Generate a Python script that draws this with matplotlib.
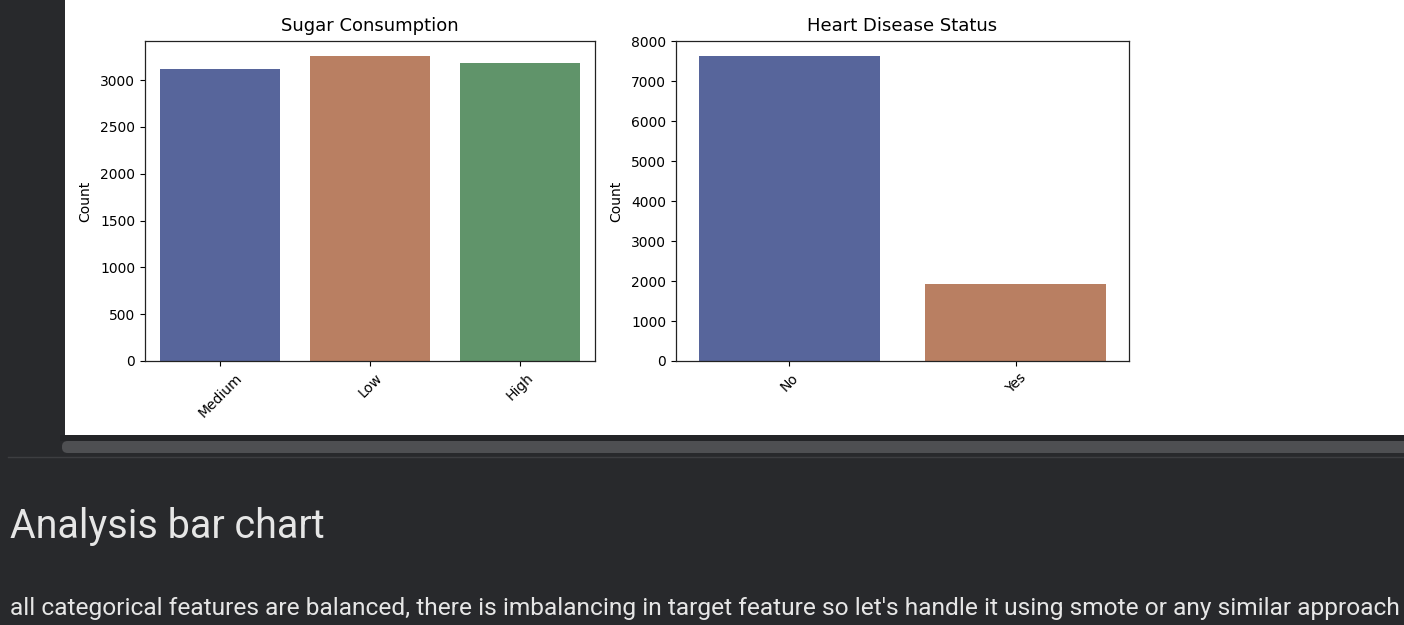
import matplotlib
matplotlib.use("Agg")
import matplotlib.pyplot as plt
from matplotlib.patches import Rectangle, FancyBboxPatch
from matplotlib.lines import Line2D

# --- Données ---
sugar_levels = ["Medium", "Low", "High"]
sugar_counts = [3117, 3255, 3188]

heart_status = ["No", "Yes"]
heart_counts = [7625, 1925]

bar_colors = ["#57659b", "#b97f62", "#60946a"]

titre_section = "Analysis bar chart"
texte_section = ("all categorical features are balanced, there is imbalancing in target "
                 "feature so let's handle it using smote or any similar approach")

W, H = 1404, 625
fond = "#28292c"


def fx(px):
    return px / W


def fy(py):
    return 1 - py / H


fig = plt.figure(figsize=(W / 100, H / 100), dpi=100, facecolor=fond)

# --- Panneau blanc de la cellule ---
fig.patches.append(Rectangle((fx(65), fy(435)), fx(W) - fx(65), 435 / H,
                             transform=fig.transFigure, facecolor="white",
                             edgecolor="none", zorder=-5))
fig.patches.append(Rectangle((fx(60), fy(441)), 1, 6 / H, transform=fig.transFigure,
                             facecolor="#232427", edgecolor="none", zorder=-5))
# barre de défilement
fig.patches.append(FancyBboxPatch((fx(62), fy(453)), 1.0, 12 / H,
                                  boxstyle="round,pad=0,rounding_size=0.004",
                                  transform=fig.transFigure, facecolor="#4e4f52",
                                  edgecolor="none", zorder=-5, mutation_aspect=2.2))
fig.lines.append(Line2D([fx(8), 1], [fy(456.5), fy(456.5)], transform=fig.transFigure,
                        color="#3d3e41", linewidth=1, zorder=-5))


def countplot(ax, cats, counts, titre):
    ax.bar(cats, counts, width=0.8, color=bar_colors[:len(cats)])
    ax.set_xlim(-0.5, len(cats) - 0.5)
    ax.set_ylim(0, max(counts) * 1.05)
    ax.set_title(titre, fontsize=13, pad=7.5)
    ax.set_ylabel("Count", fontsize=10, labelpad=6)
    ax.set_xlabel("")
    ax.tick_params(axis="x", labelrotation=45, labelsize=10)
    ax.tick_params(axis="y", labelsize=10)
    for s in ax.spines.values():
        s.set_color("#222222")
        s.set_linewidth(0.9)


ax1 = fig.add_axes([fx(145), fy(361), (595 - 145) / W, 320 / H])
countplot(ax1, sugar_levels, sugar_counts, "Sugar Consumption")

ax2 = fig.add_axes([fx(676), fy(361), (1129 - 676) / W, 320 / H])
countplot(ax2, heart_status, heart_counts, "Heart Disease Status")

# --- Texte markdown sous la cellule ---
t1 = fig.text(fx(10), fy(538), titre_section, fontsize=29.5, family="Roboto",
              color="#e6e6e6", va="baseline")
t2 = fig.text(fx(10), fy(615), texte_section, fontsize=13.7, family="Roboto",
              color="#e6e6e6", va="baseline")

# ajustement des largeurs mesurées sur la capture
fig.canvas.draw()
r = fig.canvas.get_renderer()
for t, largeur in [(t1, 315), (t2, 1387)]:
    w = t.get_window_extent(r).width
    t.set_fontsize(t.get_fontsize() * largeur / w)

fig.savefig("out.png", dpi=100, facecolor=fond)
